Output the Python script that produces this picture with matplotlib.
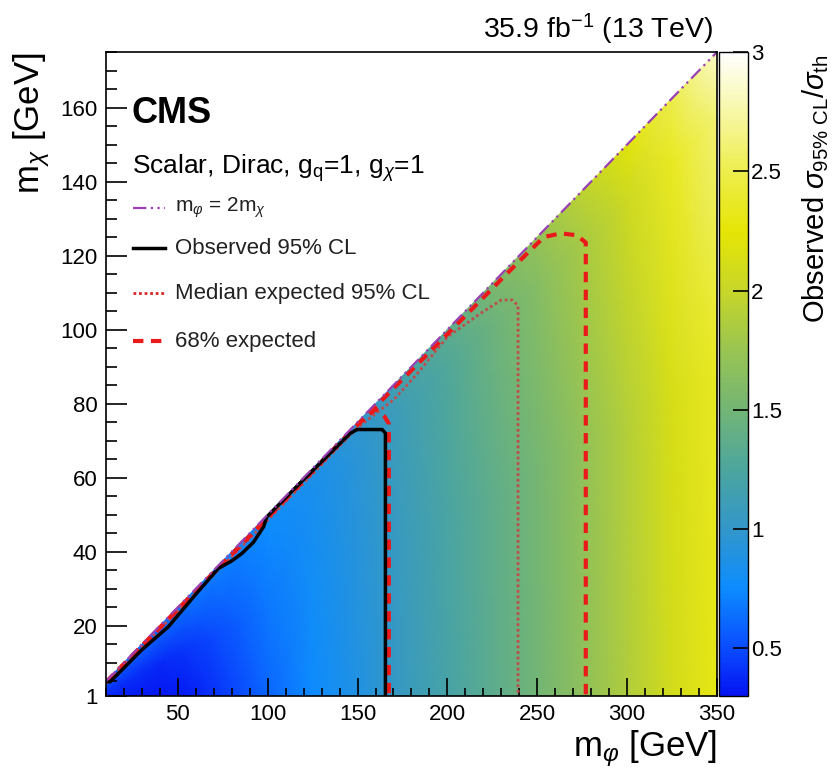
import numpy as np
import matplotlib
matplotlib.use("Agg")
import matplotlib.pyplot as plt
from matplotlib.colors import LinearSegmentedColormap
from matplotlib.ticker import MultipleLocator, FixedLocator

plt.rcParams['font.family'] = ['Liberation Sans', 'DejaVu Sans']
plt.rcParams['mathtext.fontset'] = 'custom'
plt.rcParams['mathtext.rm'] = 'Liberation Sans'
plt.rcParams['mathtext.it'] = 'Liberation Sans:italic'
plt.rcParams['mathtext.bf'] = 'Liberation Sans:bold'
plt.rcParams['mathtext.sf'] = 'Liberation Sans'

# ---- data ----
mphi_grid = np.array([10, 25, 40, 55, 70, 85, 100, 125, 150, 175, 200, 225, 250, 275, 300, 325, 350])
frac_rows = np.array([0.0, 0.5, 0.9, 1.0])   # m_chi as fraction of m_phi/2
ratio_bottom = [0.34, 0.32, 0.31, 0.33, 0.40, 0.50, 0.60, 0.75, 0.89, 1.05, 1.20, 1.35, 1.50, 1.68, 1.88, 2.10, 2.30]
ratio_mid    = [0.42, 0.40, 0.38, 0.42, 0.50, 0.58, 0.67, 0.79, 0.92, 1.07, 1.22, 1.37, 1.52, 1.70, 1.90, 2.12, 2.35]
ratio_near   = [0.55, 0.55, 0.58, 0.62, 0.66, 0.70, 0.75, 0.83, 0.95, 1.12, 1.28, 1.45, 1.62, 1.82, 2.05, 2.35, 2.60]
ratio_diag   = [0.62, 0.63, 0.65, 0.68, 0.70, 0.74, 0.78, 0.86, 0.98, 1.18, 1.35, 1.55, 1.72, 1.95, 2.20, 2.50, 2.85]

# contours (m_phi, m_chi)
obs_mphi = [10, 12.2, 30, 44.7, 60, 72.6, 80, 85.6, 92, 97.7, 99.5, 120, 146, 149.7, 163.7, 165.5, 165.5]
obs_mchi = [5, 4.8, 13.5, 19.7, 28.5, 35.5, 37.5, 39.5, 42.5, 46.7, 49.4, 59.5, 72.0, 73.0, 73.0, 72.0, 1]

med_mphi = [10, 50, 100, 150, 162.7, 170, 181.3, 199.9, 218.5, 230, 236, 239.3, 239.3]
med_mchi = [4.5, 24.0, 48.5, 73.5, 78.3, 81.0, 87.0, 98.0, 104.4, 108.0, 108.0, 106.5, 1]

exp_lo_mphi = [10, 50, 100, 150, 160, 165, 167.4, 167.4]
exp_lo_mchi = [4.7, 24.4, 49.2, 74.3, 78.5, 76.5, 74.6, 1]

exp_hi_mphi = [10, 50, 100, 150, 200, 240, 253.7, 263, 272, 277, 277]
exp_hi_mchi = [4.7, 24.4, 49.2, 74.3, 98.8, 118.5, 125.0, 126.0, 125.5, 123.5, 1]

diag_mphi = [10, 350]
diag_mchi = [5, 175]

x_ticks = [50, 100, 150, 200, 250, 300, 350]
y_ticks = [1, 20, 40, 60, 80, 100, 120, 140, 160]
z_ticks = [0.5, 1, 1.5, 2, 2.5, 3]

# ---- colormap ----
zmin, zmax = 0.3, 3.0
cpts = [(0.3, (0.02, 0.08, 0.95)), (0.5, (0.04, 0.30, 1.0)), (0.75, (0.05, 0.55, 1.0)),
        (1.0, (0.20, 0.59, 0.79)), (1.25, (0.30, 0.65, 0.62)), (1.5, (0.45, 0.71, 0.46)),
        (1.75, (0.60, 0.77, 0.32)), (2.0, (0.78, 0.84, 0.16)), (2.25, (0.90, 0.90, 0.02)),
        (2.5, (0.93, 0.93, 0.30)), (2.75, (0.97, 0.97, 0.65)), (3.0, (1.0, 1.0, 1.0))]
cmap = LinearSegmentedColormap.from_list("bird", [((v - zmin) / (zmax - zmin), c) for v, c in cpts])

fig = plt.figure(figsize=(8.37, 7.73), dpi=100)
ax = fig.add_axes([0.1266, 0.0996, 0.7300, 0.8331])
cax = fig.add_axes([0.8590, 0.0996, 0.0347, 0.8331])

Z = np.array([ratio_bottom, ratio_mid, ratio_near, ratio_diag])
X = np.tile(mphi_grid, (len(frac_rows), 1)).astype(float)
Y = frac_rows[:, None] * mphi_grid[None, :] / 2.0
mesh = ax.pcolormesh(X, Y, Z, cmap=cmap, vmin=zmin, vmax=zmax, shading='gouraud')

med_color = (0.75, 0.3, 0.3)
ax.plot(med_mphi, med_mchi, color=med_color, lw=2.0, ls=(0, (1, 1)))
ax.plot(exp_lo_mphi, exp_lo_mchi, color=(0.92, 0.1, 0.1), lw=3, ls=(0, (2.5, 1.8)))
ax.plot(exp_hi_mphi, exp_hi_mchi, color=(0.92, 0.1, 0.1), lw=3, ls=(0, (2.5, 1.8)))
ax.plot(obs_mphi, obs_mchi, color='black', lw=2.5)
ax.plot(diag_mphi, diag_mchi, color=(0.6, 0.25, 0.7), lw=1.6, ls=(0, (6, 2, 1, 2, 1, 2)))

ax.set_xlim(10, 350)
ax.set_ylim(1, 175)
ax.xaxis.set_major_locator(FixedLocator(x_ticks))
ax.xaxis.set_minor_locator(MultipleLocator(10))
ax.yaxis.set_major_locator(FixedLocator(y_ticks))
ax.yaxis.set_minor_locator(MultipleLocator(5))
ax.tick_params(which='both', direction='in', top=False, right=False, labelsize=16, width=1.2)
ax.tick_params(axis='x', which='major', length=13, pad=6)
ax.tick_params(axis='x', which='minor', length=6)
ax.tick_params(axis='y', which='major', length=15, pad=6)
ax.tick_params(axis='y', which='minor', length=8)
for s in ax.spines.values():
    s.set_linewidth(1.2)

ax.set_xlabel(r'$\mathrm{m}_{\varphi}$ [GeV]', fontsize=25, loc='right', labelpad=2)
ax.set_ylabel(r'$\mathrm{m}_{\chi}$ [GeV]', fontsize=25, loc='top', labelpad=6)

cb = fig.colorbar(mesh, cax=cax)
cb.set_ticks(z_ticks)
cb.set_ticklabels(['0.5', '1', '1.5', '2', '2.5', '3'])
cax.tick_params(direction='in', length=11, width=1.2, labelsize=16, pad=2)
cb.outline.set_linewidth(1.0)

fig.text(0.975, 0.93, r'Observed $\sigma_{\mathrm{95\%\ CL}}/\sigma_{\mathrm{th}}$', rotation=90,
         ha='center', va='top', fontsize=21)
fig.text(0.852, 0.962, r'35.9 fb$^{-1}$ (13 TeV)', ha='right', va='center', fontsize=20.5)

ax.text(0.042, 0.905, 'CMS', transform=ax.transAxes, fontsize=26, fontweight='bold', va='center')
ax.text(0.042, 0.82, r'Scalar, Dirac, $\mathrm{g}_{\mathrm{q}}$=1, $\mathrm{g}_{\chi}$=1',
        transform=ax.transAxes, fontsize=19, va='center')

# legend
leg_items = [
    (r'$\mathrm{m}_{\varphi}$ = 2$\mathrm{m}_{\chi}$', dict(color=(0.6, 0.25, 0.7), lw=1.6, ls=(0, (6, 2, 1, 2, 1, 2))), 15),
    ('Observed 95% CL', dict(color='black', lw=2.5), 16),
    ('Median expected 95% CL', dict(color=(0.85, 0.15, 0.15), lw=2.0, ls=(0, (1, 1))), 16),
    ('68% expected', dict(color=(0.92, 0.1, 0.1), lw=3, ls=(0, (2.5, 1.8))), 16),
]
leg_y_px = [208, 248, 293, 341]
x0 = (133 - 106) / 611
x1 = (165 - 106) / 611
xt = (175 - 106) / 611
for (lab, sty, fs), ypx in zip(leg_items, leg_y_px):
    ya = (696 - ypx) / 644
    ax.plot([x0, x1], [ya, ya], transform=ax.transAxes, clip_on=False, **sty)
    ax.text(xt, ya, lab, transform=ax.transAxes, fontsize=fs, va='center', color='#222222')

fig.savefig('out.png', dpi=100)
